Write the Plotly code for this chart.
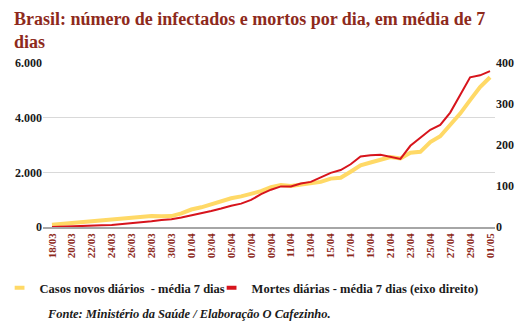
import plotly.graph_objects as go

dates = ["18/03","19/03","20/03","21/03","22/03","23/03","24/03","25/03","26/03","27/03",
         "28/03","29/03","30/03","31/03","01/04","02/04","03/04","04/04","05/04","06/04",
         "07/04","08/04","09/04","10/04","11/04","12/04","13/04","14/04","15/04","16/04",
         "17/04","18/04","19/04","20/04","21/04","22/04","23/04","24/04","25/04","26/04",
         "27/04","28/04","29/04","30/04","01/05"]

casos = [80,110,140,170,210,250,280,300,330,370,
         400,390,400,500,640,720,830,930,1050,1120,
         1200,1310,1460,1540,1500,1560,1620,1650,1770,1800,
         2020,2260,2360,2450,2560,2510,2720,2750,3110,3320,
         3720,4150,4640,5120,5480]

mortes = [0,0.5,1,2,3,4,5,7,9,11,
          14,17,19,23,28,33,39,45,52,57,
          66,80,91,99,99,106,110,121,132,139,
          153,172,175,176,171,166,198,218,237,249,
          279,322,365,370,380]

left_ticks = [0, 2000, 4000, 6000]
left_labels = ["0", "2.000", "4.000", "6.000"]
right_ticks = [0, 100, 200, 300, 400]

name_casos = "Casos novos diários  - média 7 dias"
name_mortes = "Mortes diárias - média 7 dias (eixo direito)"
title_text = "Brasil: número de infectados e mortos por dia, em média de 7<br>dias"
source_text = "Fonte: Ministério da Saúde / Elaboração O Cafezinho."

YEL = "#FFD966"
RED = "#D7141C"
TITLE = "#8E2A1C"
SERIF = "Liberation Serif"
TXT = "#1a1a1a"

fig = go.Figure()
fig.add_trace(go.Scatter(x=dates, y=casos, mode="lines", line=dict(color=YEL, width=4),
                         showlegend=False, yaxis="y"))
fig.add_trace(go.Scatter(x=dates, y=mortes, mode="lines", line=dict(color=RED, width=2),
                         showlegend=False, yaxis="y2"))
# legend entries
fig.add_trace(go.Scatter(x=[None], y=[None], mode="markers", name=name_casos, legend="legend",
                         marker=dict(symbol="line-ew-open", size=7, color=YEL,
                                     line=dict(color=YEL, width=4))))
fig.add_trace(go.Scatter(x=[None], y=[None], mode="markers", name=name_mortes, legend="legend2",
                         marker=dict(symbol="line-ew-open", size=7, color=RED,
                                     line=dict(color=RED, width=4))))

leg_common = dict(orientation="h", xanchor="left", y=-0.372, yanchor="middle",
                  font=dict(family=SERIF, size=12.5, color=TXT, weight="bold"),
                  itemwidth=30, bgcolor="rgba(0,0,0,0)")

x_leg1 = -0.085 - 5/452

fig.update_layout(
    width=532, height=324,
    margin=dict(l=43, r=37, t=63, b=97, autoexpand=False),
    paper_bgcolor="white", plot_bgcolor="white",
    xaxis=dict(type="category", categoryorder="array", categoryarray=dates,
               range=[-0.9, 44.5],
               tickvals=dates[::2], ticktext=dates[::2], tickangle=-90,
               tickfont=dict(family=SERIF, size=11, color=TITLE, weight="bold"),
               showgrid=False, showline=True, linecolor="#A6A6A6", linewidth=1.5,
               ticks="", zeroline=False),
    yaxis=dict(range=[0, 6000], tickvals=left_ticks, ticktext=left_labels,
               tickfont=dict(family=SERIF, size=12, color=TXT, weight="bold"),
               showgrid=True, gridcolor="#D9D9D9", gridwidth=1, zeroline=False,
               showline=False, ticks=""),
    yaxis2=dict(range=[0, 400], tickvals=right_ticks, overlaying="y", side="right",
                tickfont=dict(family=SERIF, size=12, color=TXT, weight="bold"),
                showgrid=False, zeroline=False, showline=False, ticks=""),
    legend=dict(x=x_leg1, **leg_common),
    legend2=dict(x=x_leg1 + 212/452, **leg_common),
    annotations=[
        dict(text=title_text, xref="paper", yref="paper",
             x=-31/452, xanchor="left", y=1 + 56/164, yanchor="top",
             align="left", showarrow=False,
             font=dict(family=SERIF, size=18, color=TITLE, weight="bold")),
        dict(text="<i>" + source_text + "</i>",
             xref="paper", yref="paper", x=2/452, xanchor="left",
             y=-0.530, yanchor="middle", showarrow=False,
             font=dict(family=SERIF, size=12.5, color=TXT, weight="bold"))],
)

fig.write_html("out.html")
